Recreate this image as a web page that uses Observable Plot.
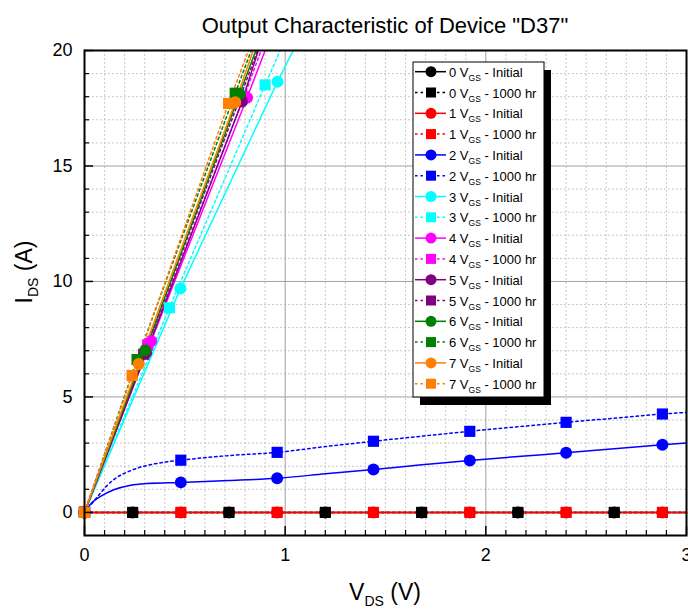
<!DOCTYPE html>
<html><head><meta charset="utf-8">
<script src="https://cdn.jsdelivr.net/npm/d3@7"></script>
<script src="https://cdn.jsdelivr.net/npm/@observablehq/plot@0.6"></script>
<style>
body{margin:0;background:#fff;font-family:"Liberation Sans",Arial,sans-serif;}
#title{height:40px;box-sizing:border-box;padding:13px 2px 0 84px;text-align:center;font-size:22px;line-height:26px;color:#000;white-space:nowrap;}
#chart svg{display:block;}
</style></head><body>
<div id="title">Output Characteristic of Device "D37"</div>
<div id="chart"></div>
<script>
// ---- data ----
const vgsList = [0, 1, 2, 3, 4, 5, 6, 7];
const vgsColors = ["#000000", "#ff0000", "#0000ff", "#00ffff", "#ff00ff", "#800080", "#008000", "#ff8000"];
const conditions = ["Initial", "1000 hr"];
const xMajorTicks = [0, 1, 2, 3];
const yMajorTicks = [0, 5, 10, 15, 20];

// 0 V_GS
const vgs0InitLine = [[0, 0], [3, 0]];
const vgs0InitPts = [[0, 0], [0.24, 0], [0.72, 0], [1.20, 0], [1.68, 0], [2.16, 0], [2.64, 0]];
const vgs0HrLine = [[0, 0], [3, 0]];
const vgs0HrPts = [[0, 0], [0.24, 0], [0.72, 0], [1.20, 0], [1.68, 0], [2.16, 0], [2.64, 0]];
// 1 V_GS
const vgs1InitLine = [[0, 0], [3, 0]];
const vgs1InitPts = [[0, 0], [0.48, 0], [0.96, 0], [1.44, 0], [1.92, 0], [2.40, 0], [2.88, 0]];
const vgs1HrLine = [[0, 0], [3, 0]];
const vgs1HrPts = [[0, 0], [0.48, 0], [0.96, 0], [1.44, 0], [1.92, 0], [2.40, 0], [2.88, 0]];
// 2 V_GS
const vgs2InitLine = [[0, 0], [0.02, 0.25], [0.04, 0.45], [0.08, 0.69], [0.146, 0.98], [0.23, 1.18], [0.31, 1.25], [0.48, 1.30], [0.72, 1.38], [0.96, 1.48], [1.20, 1.67], [1.44, 1.86], [1.68, 2.06], [1.92, 2.25], [2.16, 2.42], [2.40, 2.58], [2.64, 2.76], [2.88, 2.93], [3.00, 3.01]];
const vgs2InitPts = [[0, 0], [0.48, 1.30], [0.96, 1.48], [1.44, 1.86], [1.92, 2.25], [2.40, 2.58], [2.88, 2.93]];
const vgs2HrLine = [[0, 0], [0.046, 0.48], [0.08, 0.84], [0.113, 1.17], [0.146, 1.42], [0.23, 1.81], [0.31, 2.03], [0.395, 2.17], [0.48, 2.26], [0.72, 2.46], [0.96, 2.60], [1.20, 2.85], [1.44, 3.08], [1.68, 3.30], [1.92, 3.51], [2.16, 3.71], [2.40, 3.90], [2.64, 4.08], [2.88, 4.26], [3.00, 4.33]];
const vgs2HrPts = [[0, 0], [0.48, 2.26], [0.96, 2.60], [1.44, 3.08], [1.92, 3.51], [2.40, 3.90], [2.88, 4.26]];
// 3 V_GS
const vgs3InitPts = [[0, 0], [0.478, 9.69], [0.962, 18.65]];
const vgs3InitLine = [[0, 0], [0.478, 9.69], [0.962, 18.65], [1.04, 20]];
const vgs3HrPts = [[0, 0], [0.423, 8.86], [0.900, 18.51]];
const vgs3HrLine = [[0, 0], [0.423, 8.86], [0.900, 18.51], [0.975, 20]];
// 4 V_GS
const vgs4InitPts = [[0, 0], [0.332, 7.42], [0.810, 17.95]];
const vgs4InitLine = [[0, 0], [0.332, 7.42], [0.810, 17.95], [0.900, 20]];
const vgs4HrPts = [[0, 0], [0.315, 7.25], [0.795, 18.00]];
const vgs4HrLine = [[0, 0], [0.315, 7.25], [0.795, 18.00], [0.880, 20]];
// 5 V_GS
const vgs5InitPts = [[0, 0], [0.307, 6.91], [0.785, 17.79]];
const vgs5InitLine = [[0, 0], [0.307, 6.91], [0.785, 17.79], [0.866, 20]];
const vgs5HrPts = [[0, 0], [0.295, 6.85], [0.775, 17.95]];
const vgs5HrLine = [[0, 0], [0.295, 6.85], [0.775, 17.95], [0.862, 20]];
// 6 V_GS
const vgs6InitPts = [[0, 0], [0.303, 7.01], [0.773, 18.12]];
const vgs6InitLine = [[0, 0], [0.303, 7.01], [0.773, 18.12], [0.854, 20]];
const vgs6HrPts = [[0, 0], [0.262, 6.62], [0.751, 18.15]];
const vgs6HrLine = [[0, 0], [0.262, 6.62], [0.751, 18.15], [0.831, 20]];
// 7 V_GS
const vgs7InitPts = [[0, 0], [0.270, 6.43], [0.751, 17.76]];
const vgs7InitLine = [[0, 0], [0.270, 6.43], [0.751, 17.76], [0.841, 20]];
const vgs7HrPts = [[0, 0], [0.237, 5.93], [0.718, 17.71]];
const vgs7HrLine = [[0, 0], [0.237, 5.93], [0.718, 17.71], [0.817, 20]];

const seriesLines = [
  [vgs0InitLine, vgs0HrLine], [vgs1InitLine, vgs1HrLine], [vgs2InitLine, vgs2HrLine], [vgs3InitLine, vgs3HrLine],
  [vgs4InitLine, vgs4HrLine], [vgs5InitLine, vgs5HrLine], [vgs6InitLine, vgs6HrLine], [vgs7InitLine, vgs7HrLine]
];
const seriesPts = [
  [vgs0InitPts, vgs0HrPts], [vgs1InitPts, vgs1HrPts], [vgs2InitPts, vgs2HrPts], [vgs3InitPts, vgs3HrPts],
  [vgs4InitPts, vgs4HrPts], [vgs5InitPts, vgs5HrPts], [vgs6InitPts, vgs6HrPts], [vgs7InitPts, vgs7HrPts]
];

// ---- layout ----
const W = 688, H = 569;
const mL = 84, mR = 2, mT = 10, mB = 74;
const plotW = W - mL - mR, plotH = H - mT - mB;
const font = '"Liberation Sans", Arial, sans-serif';
const dash = "2.5,3";

const xMinor = d3.range(1, 30).map(d => d / 10).filter(d => Math.abs(d - Math.round(d)) > 1e-9);
const yMinor = d3.range(1, 20).filter(d => d % 5 !== 0);
const xMinorTicks = xMinor;
const yMinorTicks = d3.range(-0, 20).filter(d => d % 5 !== 0);

const lineMarks = [];
const dotMarks = [];
vgsList.forEach((v, i) => {
  conditions.forEach((c, j) => {
    lineMarks.push(Plot.line(seriesLines[i][j], {
      x: d => d[0], y: d => d[1], stroke: vgsColors[i], strokeWidth: 1.5,
      strokeDasharray: j === 1 ? dash : null,
      curve: v === 2 ? "monotone-x" : "linear"
    }));
    dotMarks.push(Plot.dot(seriesPts[i][j], {
      x: d => d[0], y: d => d[1], fill: vgsColors[i],
      r: j === 0 ? 6 : 6.3, symbol: j === 0 ? "circle" : "square"
    }));
  });
});

const svg = Plot.plot({
  width: W, height: H,
  marginLeft: mL, marginRight: mR, marginTop: mT, marginBottom: mB,
  style: {fontFamily: font, fontSize: "18px", color: "#000", background: "#fff", overflow: "visible"},
  x: {domain: [0, 3]},
  y: {domain: [-1, 20]},
  marks: [
    Plot.ruleX(xMinor, {x: d => d, stroke: "#c8c8c8", strokeDasharray: "2,2", strokeWidth: 1}),
    Plot.ruleY(yMinor, {y: d => d, stroke: "#c8c8c8", strokeDasharray: "2,2", strokeWidth: 1}),
    Plot.ruleX([1, 2], {x: d => d, stroke: "#a0a0a0", strokeWidth: 1}),
    Plot.ruleY([0, 5, 10, 15], {y: d => d, stroke: "#a0a0a0", strokeWidth: 1}),
    ...lineMarks,
    ...dotMarks,
    Plot.tickX(xMinorTicks, {x: d => d, insetTop: plotH - 5, stroke: "#000", strokeWidth: 1.2}),
    Plot.tickX(xMajorTicks, {x: d => d, insetTop: plotH - 9, stroke: "#000", strokeWidth: 1.5}),
    Plot.tickY(yMinorTicks, {y: d => d, insetRight: plotW - 5, stroke: "#000", strokeWidth: 1.2}),
    Plot.tickY(yMajorTicks, {y: d => d, insetRight: plotW - 9, stroke: "#000", strokeWidth: 1.5}),
    Plot.frame({stroke: "#000", strokeWidth: 2}),
    Plot.axisX({ticks: xMajorTicks, tickFormat: d => String(d), tickSize: 0, tickPadding: 13, label: null, fontSize: 18}),
    Plot.axisY({ticks: yMajorTicks, tickFormat: d => String(d), tickSize: 0, tickPadding: 12, label: null, fontSize: 18})
  ]
});
document.getElementById("chart").appendChild(svg);

// ---- axis titles with subscripts ----
const s = d3.select(svg);
const xl = s.append("text").attr("x", mL + plotW / 2).attr("y", 560).attr("text-anchor", "middle")
  .attr("font-family", font).attr("font-size", 23).attr("fill", "#000");
xl.append("tspan").text("V");
xl.append("tspan").attr("font-size", 14).attr("dy", 6).text("DS");
xl.append("tspan").attr("dy", -6).text(" (V)");

const yl = s.append("text").attr("transform", `translate(32,${232}) rotate(-90)`).attr("text-anchor", "middle")
  .attr("font-family", font).attr("font-size", 23).attr("fill", "#000");
yl.append("tspan").text("I");
yl.append("tspan").attr("font-size", 14).attr("dy", 6).text("DS");
yl.append("tspan").attr("dy", -6).text(" (A)");

// ---- legend ----
const lgX = 413, lgY = 22, lgW = 131, lgH = 335, rowH = 20.8;
const lg = s.append("g").attr("text-anchor", "start");
lg.append("rect").attr("x", lgX + 7).attr("y", lgY + 8).attr("width", lgW).attr("height", lgH).attr("fill", "#000");
lg.append("rect").attr("x", lgX).attr("y", lgY).attr("width", lgW).attr("height", lgH).attr("fill", "#fff").attr("stroke", "#000").attr("stroke-width", 1);
let k = 0;
vgsList.forEach((v, i) => {
  conditions.forEach((c, j) => {
    const cy = lgY + 9.7 + k * rowH;
    const g = lg.append("g");
    g.append("line").attr("x1", lgX + 2).attr("x2", lgX + 33).attr("y1", cy).attr("y2", cy)
      .attr("stroke", vgsColors[i]).attr("stroke-width", 1.5).attr("stroke-dasharray", j === 1 ? dash : null);
    if (j === 0) g.append("circle").attr("cx", lgX + 18).attr("cy", cy).attr("r", 5.5).attr("fill", vgsColors[i]);
    else g.append("rect").attr("x", lgX + 18 - 5).attr("y", cy - 5).attr("width", 10).attr("height", 10).attr("fill", vgsColors[i]);
    const t = g.append("text").attr("x", lgX + 36).attr("y", cy + 5).attr("text-anchor", "start")
      .attr("font-family", font).attr("font-size", 13).attr("fill", "#000");
    t.append("tspan").text(`${v} V`);
    t.append("tspan").attr("font-size", 8.5).attr("dy", 4).text("GS");
    t.append("tspan").attr("dy", -4).text(` - ${c}`);
    k++;
  });
});
</script></body></html>
